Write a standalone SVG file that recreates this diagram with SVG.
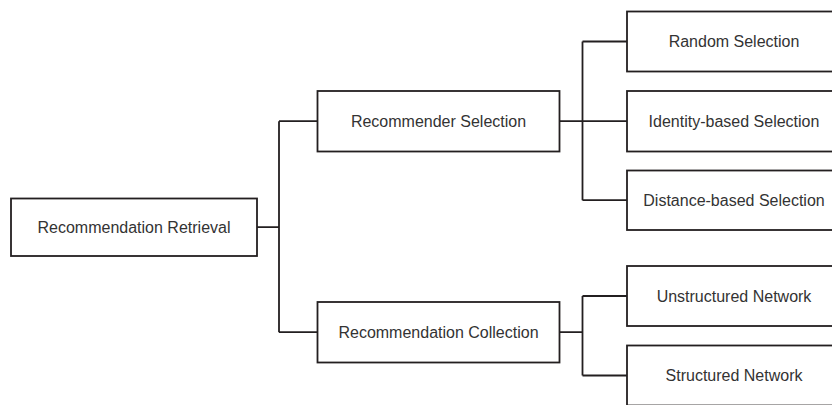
<svg xmlns="http://www.w3.org/2000/svg" width="832" height="405" viewBox="0 0 832 405">
<style>
.box{fill:#ffffff;stroke:#231f20;stroke-width:1.8}
.lbl{font-family:"Liberation Sans",Arial,sans-serif;font-size:16px;fill:#333333;text-anchor:middle}
.con{fill:none;stroke:#231f20;stroke-width:1.8}
</style>
<rect width="832" height="405" fill="#ffffff"/>
<g id="connectors">
<path class="con" d="M257 227.2 H279 M279 121.2 V332.2 M279 121.2 H317.5 M279 332.2 H317.5"/>
<path class="con" d="M559.5 121.2 H582.5 M582.5 41.5 V200.2 M582.5 41.5 H627 M582.5 121.2 H627 M582.5 200.2 H627"/>
<path class="con" d="M559.5 332.2 H582.5 M582.5 296 V375.5 M582.5 296 H627 M582.5 375.5 H627"/>
</g>
<g id="recommendation-retrieval">
<rect class="box" x="11" y="198.5" width="246" height="57.5"/>
<text class="lbl" x="134" y="232.8">Recommendation Retrieval</text>
</g>
<g id="recommender-selection">
<rect class="box" x="317.5" y="91" width="242" height="60.5"/>
<text class="lbl" x="438.5" y="126.8">Recommender Selection</text>
</g>
<g id="recommendation-collection">
<rect class="box" x="317.5" y="302" width="242" height="60.5"/>
<text class="lbl" x="438.5" y="337.8">Recommendation Collection</text>
</g>
<g id="random-selection">
<rect class="box" x="627" y="11.5" width="214" height="60"/>
<text class="lbl" x="734" y="47">Random Selection</text>
</g>
<g id="identity-based-selection">
<rect class="box" x="627" y="91" width="214" height="60.5"/>
<text class="lbl" x="734" y="126.8">Identity-based Selection</text>
</g>
<g id="distance-based-selection">
<rect class="box" x="627" y="170.5" width="214" height="59.5"/>
<text class="lbl" x="734" y="205.8">Distance-based Selection</text>
</g>
<g id="unstructured-network">
<rect class="box" x="627" y="266" width="214" height="60"/>
<text class="lbl" x="734" y="301.5">Unstructured Network</text>
</g>
<g id="structured-network">
<rect class="box" x="627" y="345.5" width="214" height="60"/>
<text class="lbl" x="734" y="381">Structured Network</text>
</g>
</svg>
